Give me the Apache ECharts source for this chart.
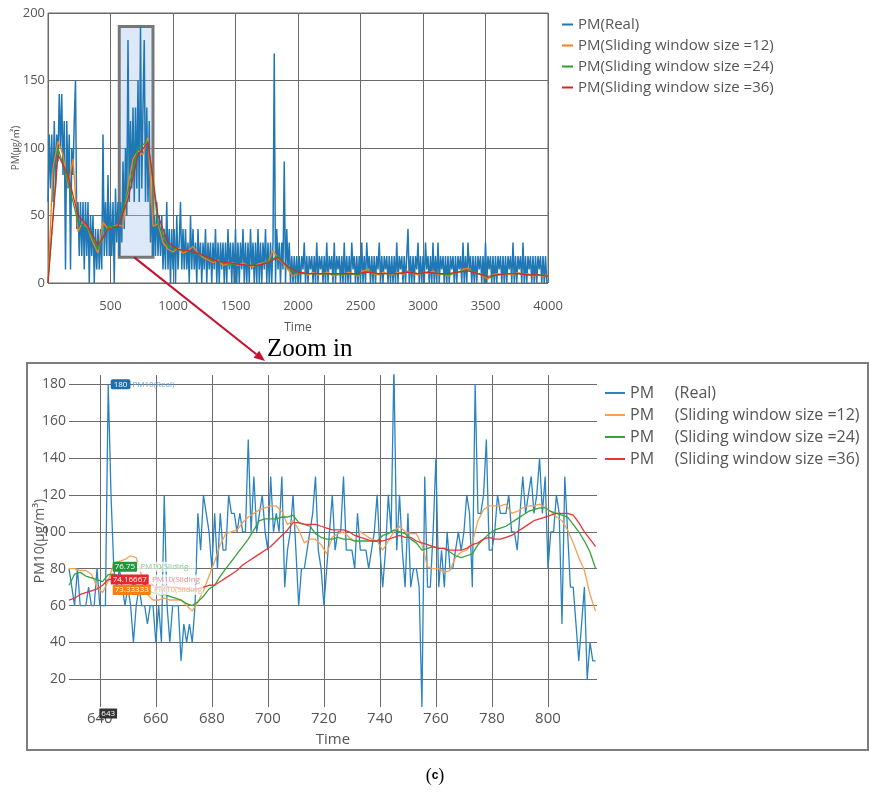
<!DOCTYPE html>
<html><head><meta charset="utf-8">
<script src="https://cdn.jsdelivr.net/npm/echarts@6/dist/echarts.min.js"></script>
<style>html,body{margin:0;padding:0;background:#fff}#c{width:869px;height:794px}</style>
</head><body><div id="c"></div>
<script>
// ---------- overview chart (top) ----------
const topRealStart = 0, topRealStep = 10;
const topReal = [
60,110,70,110,60,120,70,110,90,140,
100,140,80,120,10,120,70,110,10,100,
80,120,150,40,60,20,60,20,60,10,
60,20,60,0,50,20,50,0,40,10,
40,10,40,10,110,20,60,20,80,20,
60,20,60,0,70,30,60,20,60,30,
90,40,100,50,180,60,120,70,130,60,
130,70,150,60,190,70,130,180,60,130,
60,120,30,60,20,50,20,60,20,50,
20,50,10,40,10,60,10,40,0,40,
10,40,0,50,10,30,60,10,40,10,
40,10,30,0,50,10,40,10,30,0,
40,10,30,0,30,10,40,0,30,10,
30,0,30,10,40,0,30,0,30,10,
30,0,30,0,40,10,30,0,30,0,
40,0,30,0,30,10,40,0,30,0,
30,0,40,10,30,0,30,0,40,0,
30,0,30,10,40,0,30,0,30,0,
30,170,0,40,10,30,0,30,10,90,
0,40,10,30,0,20,0,20,0,20,
0,20,0,20,10,30,0,20,0,20,
10,20,0,20,0,30,0,20,10,20,
0,20,0,30,0,20,10,20,0,30,
0,20,10,20,0,20,0,30,0,20,
0,20,0,30,10,20,0,20,0,20,
0,30,0,20,0,30,10,20,0,20,
0,20,0,20,10,30,0,20,0,20,
10,20,0,20,0,20,0,20,0,30,
0,20,10,20,0,20,0,20,40,0,
20,0,20,0,20,10,30,0,20,0,
20,0,30,10,20,0,20,0,30,0,
20,0,30,0,20,10,20,0,20,0,
20,0,20,10,20,0,20,0,20,10,
20,0,30,0,20,0,30,10,20,0,
20,0,20,0,20,10,20,0,20,0,
30,0,20,10,20,0,20,0,20,0,
20,10,20,0,20,0,20,0,20,10,
20,0,30,0,20,0,20,10,20,0,
30,0,20,0,20,10,20,0,20,0,
20,0,20,10,20,0,20,0,20,0,
0];
const topSma12Step = 40;
const topSma12 = [
0,85,105,95,72,92,38,46,40,30,
22,45,40,42,43,42,72,92,98,95,
108,42,44,30,25,23,26,22,24,27,
22,19,17,15,17,13,14,15,13,15,
13,12,14,15,16,24,18,15,10,5,
7,8,6,8,6,7,8,5,7,6,
8,7,5,9,10,7,6,8,7,6,
8,6,9,7,6,8,7,9,6,7,
5,7,8,10,11,8,7,5,3,6,
7,6,7,6,8,6,7,5,6,5,
6];
const topSmaStep = 80;
const topSma24 = [0,100,75,45,40,25,42,42,68,100,105,44,27,25,24,22,18,16,14,14,13,13,16,20,11,7,7,7,7,6,7,6,9,7,7,7,8,7,8,7,6,8,10,7,4,6,7,7,6,6,5];
const topSma36 = [0,95,80,50,42,28,40,42,62,95,104,50,30,25,24,22,19,16,15,14,13,13,15,19,12,8,7,7,7,7,7,7,8,7,7,7,8,7,8,7,7,8,9,7,5,6,7,7,6,6,5];
const topNames = ['PM(Real)','PM(Sliding window size =12)','PM(Sliding window size =24)','PM(Sliding window size =36)'];
const zoomRegion = [[570,19],[840,190]];

// ---------- zoomed chart (bottom) ----------
const zoomRealStart = 629;
const zoomReal = [
80,70,60,80,60,60,60,70,60,60,
80,60,60,60,180,120,80,70,80,70,
60,70,60,40,60,70,60,60,50,60,
60,40,60,40,120,60,40,60,60,60,
30,50,40,50,40,60,110,90,120,110,
100,80,110,80,110,90,90,120,110,110,
100,110,100,100,150,100,130,100,110,120,
100,90,130,100,110,100,130,70,90,100,
120,90,60,80,80,90,100,110,130,90,
80,60,80,100,120,90,100,100,130,90,
90,90,80,110,90,90,90,80,90,100,
120,90,70,90,120,100,190,90,120,90,
70,110,70,80,80,70,5,130,70,70,
100,140,70,90,70,100,80,80,90,100,
90,100,120,110,70,180,110,110,120,150,
90,90,100,120,110,110,110,120,100,100,
90,110,130,110,120,130,110,120,140,110,
130,80,100,100,120,110,50,130,100,70,
70,50,30,50,70,20,40,30,30];
const zoomSmaStart = 629, zoomSmaStep = 2;
const zoomSma12 = [
80,80,79,79,77,70,67,73.33333,83,84,
85,87,86,76,66,63,63,64,63,63,
63,60,57,62,68,76,84,93,99,100,
101,105,108,110,112,113,114,114,111,104,
106,101,94,96,96,93,88,97,99,100,
97,95,100,98,96,95,90,95,100,103,
100,99,99,93,81,80,80,78,79,86,
89,90,94,106,112,114,114,114,115,110,
111,113,114,114,115,113,111,108,106,101,
94,86,79,66,57];
const zoomSma24 = [
71,77,78,76,75,74,73,76.75,77,76,
74,72,71,70,68,67,66,66,65,64,
63,61,60,62,65,69,71,76,80,84,
88,92,96,101,106,107,107,107,108,108,
109,105,104,103,99,97,96,96,97,96,
96,95,95,95,95,95,98,99,101,100,
99,96,94,90,91,92,91,91,89,87,
86,87,88,93,96,99,101,102,103,105,
107,109,111,112,113,113,111,110,109,108,
104,100,95,89,80];
const zoomSma36 = [
63,64,66,67,68,69,71,74.16667,74,73,
73,73,72,72,71,71,70,71,70,70,
69,69,68,69,70,71,71,73,75,77,
79,82,84,86,88,90,92,95,98,101,
105,105,104,104,104,103,102,101,101,101,
100,98,97,96,95,95,95,96,97,98,
97,97,95,94,93,92,91,91,90,90,
90,91,93,94,96,97,96,96,97,98,
100,102,104,106,107,108,109,110,110,110,
109,105,100,96,92];
const zoomXTicks = [640,660,680,700,720,740,760,780,800];
const zoomYTicks = [20,40,60,80,100,120,140,160,180];
const zoomNames = ['PM     (Real)','PM     (Sliding window size =12)','PM     (Sliding window size =24)','PM     (Sliding window size =36)'];
const hoverTime = 643;

const COLORS = ['#1f77b4','#ff7f0e','#2ca02c','#d62728'];
const ZCOLORS = ['#2a83c2','#f8a052','#34a33a','#e6363b'];
const FONT = '"Open Sans", "Noto Sans CJK KR", sans-serif';

function seq(start, step, vals){ return vals.map((v,i)=>[start+step*i, v]); }
function valAt(start, step, vals, t){ return vals[Math.round((t-start)/step)]; }

const gridLine = {show:true, lineStyle:{color:'#6a6a6a', width:1}};

function tagLabel(bg, fg, name, dx, dy){
  return {
    show:true, position:'right', distance:2, offset:[dx,dy],
    formatter: p => '{a|' + p.value + '}{b| ' + name + '}',
    rich:{
      a:{backgroundColor:bg, color:'#fff', fontSize:8, padding:[1,2,1,2], borderRadius:1},
      b:{color:fg, fontSize:8, backgroundColor:'rgba(255,255,255,0.75)', padding:[1,1,1,1]}
    }
  };
}
function hoverMark(vals, bg, fg, name, dx, dy){
  const v = valAt(zoomSmaStart, zoomSmaStep, vals, hoverTime);
  return {symbol:'circle', symbolSize:1, itemStyle:{color:'rgba(0,0,0,0)'}, silent:true,
    data:[{coord:[hoverTime, v], value:v, label:tagLabel(bg, fg, name, dx, dy)}]};
}

const realHoverVal = zoomReal[hoverTime - zoomRealStart];

const series = [
  {name:topNames[0], type:'line', xAxisIndex:0, yAxisIndex:0, data:seq(topRealStart, topRealStep, topReal),
   symbol:'none', lineStyle:{color:COLORS[0], width:1.5}, itemStyle:{color:COLORS[0]},
   markArea:{silent:true, itemStyle:{color:'rgba(165,195,238,0.38)', borderColor:'#777', borderWidth:3},
     data:[[{coord:zoomRegion[0]},{coord:zoomRegion[1]}]]}},
  {name:topNames[1], type:'line', xAxisIndex:0, yAxisIndex:0, data:seq(0, topSma12Step, topSma12),
   symbol:'none', lineStyle:{color:COLORS[1], width:1.3}, itemStyle:{color:COLORS[1]}},
  {name:topNames[2], type:'line', xAxisIndex:0, yAxisIndex:0, data:seq(0, topSmaStep, topSma24),
   symbol:'none', lineStyle:{color:COLORS[2], width:1.2}, itemStyle:{color:COLORS[2]}},
  {name:topNames[3], type:'line', xAxisIndex:0, yAxisIndex:0, data:seq(0, topSmaStep, topSma36),
   symbol:'none', lineStyle:{color:COLORS[3], width:1.2}, itemStyle:{color:COLORS[3]}},

  {name:zoomNames[0], type:'line', xAxisIndex:1, yAxisIndex:1, data:seq(zoomRealStart, 1, zoomReal),
   symbol:'none', lineStyle:{color:ZCOLORS[0], width:1.3}, itemStyle:{color:ZCOLORS[0]},
   markPoint:{symbol:'circle', symbolSize:1, itemStyle:{color:'rgba(0,0,0,0)'}, silent:true,
     data:[
       {coord:[hoverTime, realHoverVal], value:realHoverVal,
        label:{show:true, position:'right', distance:2, formatter:p=>'{a|'+p.value+'}{b| PM10(Real)}',
          rich:{a:{backgroundColor:'#1b6fae', color:'#fff', fontSize:8, padding:[1,3,1,3], borderRadius:2},
                b:{color:'#6aa6d6', fontSize:8}}}},
       {coord:[hoverTime, 5], value:hoverTime,
        label:{show:true, position:'bottom', distance:1, formatter:p=>''+p.value,
          backgroundColor:'#333', color:'#fff', fontSize:8, padding:[1,2,1,2]}}
     ]}},
  {name:zoomNames[1], type:'line', xAxisIndex:1, yAxisIndex:1, data:seq(zoomSmaStart, zoomSmaStep, zoomSma12),
   symbol:'none', lineStyle:{color:ZCOLORS[1], width:1.3}, itemStyle:{color:ZCOLORS[1]},
   markPoint:hoverMark(zoomSma12, '#f5800f', '#f6b07a', 'PM10(Sliding', 2, 9)},
  {name:zoomNames[2], type:'line', xAxisIndex:1, yAxisIndex:1, data:seq(zoomSmaStart, zoomSmaStep, zoomSma24),
   symbol:'none', lineStyle:{color:ZCOLORS[2], width:1.3}, itemStyle:{color:ZCOLORS[2]},
   markPoint:hoverMark(zoomSma24, '#1e9a3c', '#86c98c', 'PM10(Sliding...', 2, -8)},
  {name:zoomNames[3], type:'line', xAxisIndex:1, yAxisIndex:1, data:seq(zoomSmaStart, zoomSmaStep, zoomSma36),
   symbol:'none', lineStyle:{color:ZCOLORS[3], width:1.3}, itemStyle:{color:ZCOLORS[3]},
   markPoint:hoverMark(zoomSma36, '#e8262b', '#ee8a8a', 'PM10(Sliding', 0, 0)}
];

const chart = echarts.init(document.getElementById('c'), null, {renderer:'canvas'});
const option = {
  animation:false,
  backgroundColor:'#fff',
  textStyle:{fontFamily:FONT},
  grid:[
    {left:48, top:13, width:500, height:270, show:true, borderColor:'#6a6a6a', borderWidth:1, containLabel:false, outerBoundsMode:'none'},
    {left:69, top:375, width:528, height:332, containLabel:false, outerBoundsMode:'none'}
  ],
  xAxis:[
    {gridIndex:0, type:'value', min:0, max:4000, interval:500,
     axisLine:{show:false}, axisTick:{show:false}, splitLine:gridLine,
     axisLabel:{showMinLabel:false, fontSize:13, color:'#555', margin:17, formatter:v=>String(v)},
     name:'Time', nameLocation:'middle', nameGap:39, nameMoveOverlap:false, nameTextStyle:{fontSize:12, color:'#555'}},
    {gridIndex:1, type:'value', min:629, max:817.5,
     axisLine:{show:false}, axisTick:{show:false, customValues:zoomXTicks}, splitLine:gridLine,
     axisLabel:{customValues:zoomXTicks, fontSize:15, color:'#555', margin:4, formatter:v=>String(v)},
     name:'Time', nameLocation:'middle', nameGap:25, nameMoveOverlap:false, nameTextStyle:{fontSize:15, color:'#555'}}
  ],
  yAxis:[
    {gridIndex:0, type:'value', min:0, max:200, interval:50,
     axisLine:{show:false}, axisTick:{show:false}, splitLine:gridLine,
     axisLabel:{fontSize:13, color:'#555', margin:3},
     name:'PM(㎍/㎥)', nameLocation:'middle', nameGap:27, nameMoveOverlap:false, nameTextStyle:{fontSize:10, color:'#555'}},
    {gridIndex:1, type:'value', min:5, max:185,
     axisLine:{show:false}, axisTick:{show:false, customValues:zoomYTicks}, splitLine:gridLine,
     axisLabel:{customValues:zoomYTicks, fontSize:14, color:'#555', margin:3},
     name:'PM10(μg/m³)', nameLocation:'middle', nameGap:22, nameMoveOverlap:false, nameTextStyle:{fontSize:14, color:'#555'}}
  ],
  legend:[
    {data:topNames, orient:'vertical', left:562, top:17, icon:'rect', itemWidth:11, itemHeight:2, itemGap:6,
     padding:0, selectedMode:false, textStyle:{fontSize:15, color:'#555'}},
    {data:zoomNames, orient:'vertical', left:605, top:385, icon:'rect', itemWidth:20, itemHeight:2, itemGap:6,
     padding:0, selectedMode:false, textStyle:{fontSize:16, color:'#555'}}
  ],
  series:series
};
chart.setOption(option);

// annotation: arrow from highlighted region to zoomed panel
const start = chart.convertToPixel({gridIndex:0}, [690, 19]);
const tip = [265, 361];
const dx = tip[0]-start[0], dy = tip[1]-start[1], L = Math.hypot(dx,dy), ux = dx/L, uy = dy/L;
const hl = 11, hw = 4.5;
const base = [tip[0]-ux*hl, tip[1]-uy*hl];
chart.setOption({
  graphic:[
    {type:'rect', shape:{x:27, y:363, width:841, height:387}, style:{fill:'none', stroke:'#7d7d7d', lineWidth:2}, z:100},
    {type:'line', shape:{x1:start[0], y1:start[1], x2:base[0], y2:base[1]}, style:{stroke:'#c8102e', lineWidth:2}, z:101},
    {type:'polygon', shape:{points:[tip, [base[0]-uy*hw, base[1]+ux*hw], [base[0]+uy*hw, base[1]-ux*hw]]}, style:{fill:'#c8102e'}, z:101},
    {type:'text', x:267, y:362, style:{text:'Zoom in', font:'25px "Liberation Serif", "Times New Roman", serif', fill:'#000', textBaseline:'alphabetic', verticalAlign:'bottom'}, z:102},
    {type:'text', x:435, y:776, style:{text:'({b|c})', font:'18px "Liberation Serif", serif', fill:'#000', align:'center', verticalAlign:'middle',
      rich:{b:{fontWeight:'bold', font:'bold 18px "Liberation Serif", serif', fill:'#000'}}}, z:102}
  ]
});
</script>
</body></html>
